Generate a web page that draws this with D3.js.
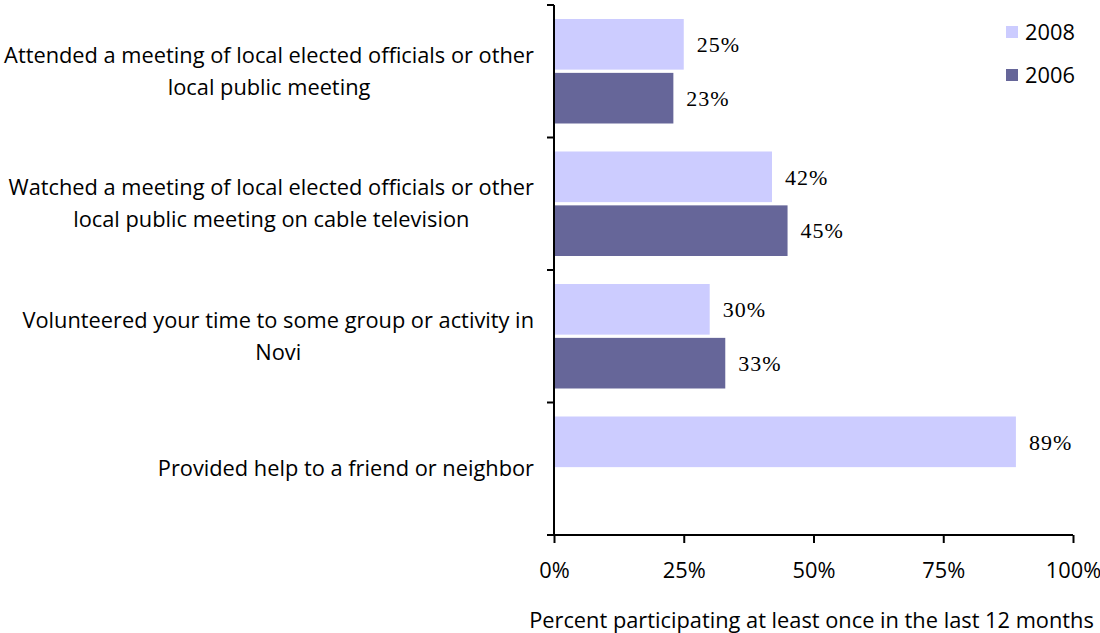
<!DOCTYPE html>
<html><head><meta charset="utf-8">
<script src="https://cdn.jsdelivr.net/npm/d3@7"></script>
<style>body{margin:0;background:#fff}svg{display:block}</style>
</head><body>
<svg id="c" width="1100" height="633"></svg>
<script>
const categories = [
  ["Attended a meeting of local elected officials or other", "local public meeting"],
  ["Watched a meeting of local elected officials or other", "local public meeting on cable television"],
  ["Volunteered your time to some group or activity in", "Novi"],
  ["Provided help to a friend or neighbor"]
];
const seriesNames = ["2008", "2006"];
const values2008 = [25, 42, 30, 89];
const values2006 = [23, 45, 33, null];
const xTicks = [0, 25, 50, 75, 100];
const xTitle = "Percent participating at least once in the last 12 months";
const colors = {"2008": "#ccccff", "2006": "#666699"};

const svg = d3.select("#c");
const sansFont = "'Open Sans', sans-serif";
const serifFont = "'Liberation Serif', serif";
const fs = 21.8;
const x0 = 554, x1 = 1073, yTop = 5, yBot = 535;

const x = d3.scaleLinear().domain([0, 100]).range([x0, x1]);
const y = d3.scaleBand().domain(d3.range(categories.length)).range([yTop, yBot]).padding(0);
const ySub = d3.scaleBand().domain(seriesNames).range([14, y.bandwidth() - 14]).paddingInner(0.06);

const data = [];
categories.forEach((c, i) => {
  data.push({cat: i, s: "2008", v: values2008[i]});
  data.push({cat: i, s: "2006", v: values2006[i]});
});
const bars = data.filter(d => d.v != null);

svg.append("g").selectAll("rect").data(bars).join("rect")
  .attr("x", x(0))
  .attr("y", d => y(d.cat) + ySub(d.s))
  .attr("width", d => x(d.v) - x(0))
  .attr("height", ySub.bandwidth())
  .attr("fill", d => colors[d.s]);

svg.append("g").selectAll("text").data(bars).join("text")
  .attr("x", d => x(d.v) + 13)
  .attr("y", d => y(d.cat) + ySub(d.s) + ySub.bandwidth() / 2)
  .attr("dy", "0.35em")
  .attr("font-family", serifFont)
  .attr("font-size", 22)
  .attr("letter-spacing", 1)
  .attr("fill", "#000")
  .text(d => d.v + "%");

// y axis
const yAxisG = svg.append("g").attr("stroke", "#000").attr("stroke-width", 2);
yAxisG.append("line").attr("x1", x0).attr("x2", x0).attr("y1", yTop).attr("y2", yBot);
const bounds = d3.range(categories.length + 1).map(i => i < categories.length ? y(i) : yBot);
yAxisG.selectAll("line.t").data(bounds).join("line").attr("class", "t")
  .attr("x1", x0 - 7).attr("x2", x0).attr("y1", d => d).attr("y2", d => d);

// x axis
const xAxis = d3.axisBottom(x).tickValues(xTicks).tickSize(8).tickFormat(d => d + "%").tickPadding(20);
const xg = svg.append("g").attr("transform", `translate(0,${yBot})`).call(xAxis);
xg.select(".domain").attr("stroke", "#000").attr("stroke-width", 2).attr("d", `M${x0 - 7},0H${x1}`);
xg.selectAll(".tick line").attr("stroke", "#000").attr("stroke-width", 2);
xg.selectAll(".tick text").attr("font-family", sansFont).attr("font-size", fs).attr("fill", "#000");

// category labels
const labelRight = 534, lineH = 32;
categories.forEach((lines, i) => {
  const g = svg.append("g");
  const cy = y(i) + y.bandwidth() / 2;
  const texts = lines.map((l, k) => g.append("text")
    .attr("font-family", sansFont).attr("font-size", fs).attr("fill", "#000")
    .attr("text-anchor", "middle")
    .attr("y", cy + (k - (lines.length - 1) / 2) * lineH)
    .attr("dy", "0.35em")
    .text(l));
  const maxW = d3.max(texts, t => t.node().getComputedTextLength());
  texts.forEach(t => t.attr("x", labelRight - maxW / 2));
});

// x title
svg.append("text").attr("x", (x0 + x1) / 2 - 2).attr("y", 620)
  .attr("text-anchor", "middle").attr("dy", "0.35em").attr("font-family", sansFont).attr("font-size", fs)
  .attr("fill", "#000").text(xTitle);

// legend
const lg = svg.append("g").selectAll("g").data(seriesNames).join("g")
  .attr("transform", (d, i) => `translate(1006,${32 + i * 43})`);
lg.append("rect").attr("x", 0).attr("y", -6).attr("width", 12).attr("height", 12).attr("fill", d => colors[d]);
lg.append("text").attr("x", 19).attr("dy", "0.35em").attr("font-family", sansFont).attr("font-size", fs)
  .attr("fill", "#000").text(d => d);
</script>
</body></html>
